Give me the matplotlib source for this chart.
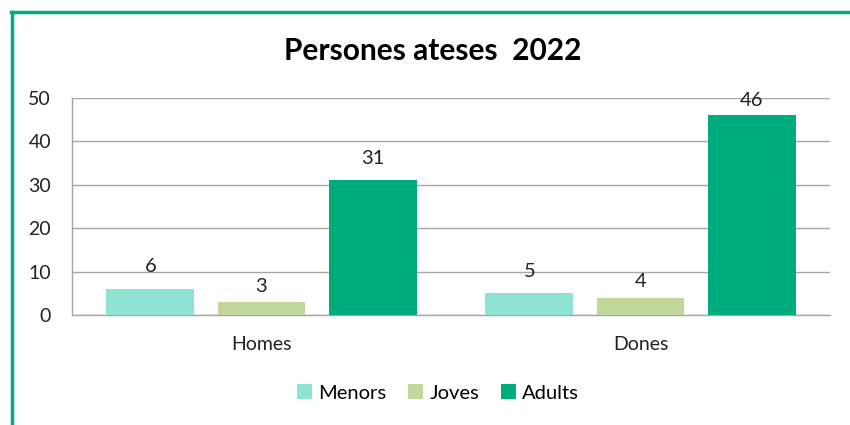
import numpy as np
import matplotlib.pyplot as plt
from matplotlib.lines import Line2D

plt.rcParams['font.family'] = ['Lato', 'DejaVu Sans']

categories = ['Homes', 'Dones']
series = ['Menors', 'Joves', 'Adults']
values = {
    'Menors': [6, 5],
    'Joves': [3, 4],
    'Adults': [31, 46],
}
colors = {'Menors': '#8EE3D2', 'Joves': '#C4D79B', 'Adults': '#00AC7C'}
# gap (points) between bar top and its value label
label_gap = {'Menors': 12, 'Joves': 7.5, 'Adults': 12}

fig = plt.figure(figsize=(8.5, 4.25), dpi=100)
ax = fig.add_axes([72/850, 1-315/425, (830-72)/850, (315-98)/425])

x = np.arange(len(categories))
w = 0.232
step = 0.293
for i, s in enumerate(series):
    bars = ax.bar(x + (i-1)*step, values[s], w, color=colors[s], label=s, zorder=3)
    for b, v in zip(bars, values[s]):
        off = label_gap[s] if v < 45 else 6.5
        ax.annotate(str(v), (b.get_x() + b.get_width()/2, v), xytext=(0, off),
                    textcoords='offset points', ha='center', va='baseline',
                    fontsize=14.5, color='#222222', zorder=4)

ax.set_xlim(-0.5, 1.5)
ax.set_ylim(0, 50)
ax.set_yticks(range(0, 51, 10))
ax.set_xticks(x)
ax.set_xticklabels(categories)
ax.tick_params(axis='both', length=0, labelsize=14, colors='#222222')
ax.tick_params(axis='x', pad=15)
ax.tick_params(axis='y', pad=15)
ax.grid(axis='y', color='#A6A6A6', linewidth=1, zorder=0)
for sp in ['top', 'right']:
    ax.spines[sp].set_visible(False)
for sp in ['left', 'bottom']:
    ax.spines[sp].set_color('#A6A6A6')
    ax.spines[sp].set_linewidth(1)

fig.text(433/850, 1-51/425, 'Persones ateses  2022', ha='center', va='center',
         fontsize=21.5, fontweight='bold')

fig.legend(loc='center', bbox_to_anchor=(438/850, 1-393/425), ncol=3, frameon=False,
           fontsize=14.5, handlelength=0.75, handleheight=0.75, handletextpad=0.3,
           columnspacing=1.1)

# green frame (left and top edges)
fig.add_artist(Line2D([12/850, 12/850], [0, 1-11.5/425], color='#00AC7C', linewidth=2.5,
                      transform=fig.transFigure))
fig.add_artist(Line2D([11/850, 1], [1-11.5/425, 1-11.5/425], color='#00AC7C', linewidth=2.5,
                      transform=fig.transFigure))

fig.savefig('out.png', dpi=100)
